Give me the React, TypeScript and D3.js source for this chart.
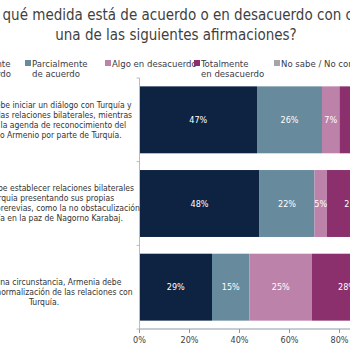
import { useMemo } from 'react';
import * as d3 from 'd3';

// Data (shares per statement, in %)
const statements: string[][] = [
  [
    'Armenia debe iniciar un diálogo con Turquía y',
    'establecer las relaciones bilaterales, mientras',
    'mantiene la agenda de reconocimiento del',
    'Genocidio Armenio por parte de Turquía.',
  ],
  [
    'Armenia debe establecer relaciones bilaterales',
    'con Turquia presentando sus propias',
    'condiciones prerevias, como la no obstaculización',
    'de Turquía en la paz de Nagorno Karabaj.',
  ],
  [
    '',
    'En ninguna circunstancia, Armenia debe',
    'aceptar la normalización de las relaciones con',
    'Turquía.',
  ],
];

const seriesNames = [
  ['Totalmente', 'de acuerdo'],
  ['Parcialmente', 'de acuerdo'],
  ['Algo en desacuerdo'],
  ['Totalmente', 'en desacuerdo'],
  ['No sabe / No contesta'],
];
const totallyAgree = [47, 48, 29];
const partlyAgree = [26, 22, 15];
const somewhatDisagree = [7, 5, 25];
const totallyDisagree = [16, 21, 28];
const dontKnow = [4, 4, 3];

const xTicks = [0, 20, 40, 60, 80, 100];

const titleLines = [
  '¿En qué medida está de acuerdo o en desacuerdo con cada',
  'una de las siguientes afirmaciones?',
];

const palette = ['#0e2341', '#678a9d', '#bd82aa', '#8b2f6d', '#a6a6a6'];
const FONT = '"DejaVu Sans Condensed", "DejaVu Sans", Tahoma, sans-serif';

export default function App() {
  const width = 350;
  const height = 350;
  const plot = { left: 139.5, right: 389.5, top: 78, bottom: 329 };

  const x = d3.scaleLinear().domain([0, 100]).range([plot.left, plot.right]);
  const y = d3
    .scaleBand<number>()
    .domain(d3.range(statements.length))
    .range([plot.top, plot.bottom])
    .paddingInner(0.2)
    .paddingOuter(0.1);

  const stacked = useMemo(() => {
    const rows = statements.map((_, i) => ({
      s0: totallyAgree[i],
      s1: partlyAgree[i],
      s2: somewhatDisagree[i],
      s3: totallyDisagree[i],
      s4: dontKnow[i],
    }));
    return d3.stack<(typeof rows)[number]>().keys(['s0', 's1', 's2', 's3', 's4'])(rows);
  }, []);

  // legend columns (swatch x positions)
  const legendX = [-44, 25, 105, 194, 274];
  const bandStep = y.step();

  return (
    <svg
      width={width}
      height={height}
      style={{ position: 'absolute', left: 0, top: 0, background: '#fff' }}
      fontFamily={FONT}
    >
      {/* title */}
      {titleLines.map((t, i) => (
        <text key={i} x={176} y={20 + i * 20} textAnchor="middle" fontSize={15} fill="#3f3f3f">
          {t}
        </text>
      ))}

      {/* legend */}
      {seriesNames.map((lines, i) => (
        <g key={i} transform={`translate(${legendX[i]},0)`}>
          <rect x={0} y={60} width={6} height={6} fill={palette[i]} />
          {lines.map((l, j) => (
            <text key={j} x={7} y={67 + j * 10} fontSize={9.5} fill="#3b3b48">
              {l}
            </text>
          ))}
        </g>
      ))}

      {/* bars */}
      {stacked.map((layer, si) => (
        <g key={si} fill={palette[si]}>
          {layer.map((d, ci) => (
            <rect
              key={ci}
              x={x(d[0])}
              y={y(ci)!}
              width={x(d[1]) - x(d[0])}
              height={y.bandwidth()}
            />
          ))}
        </g>
      ))}

      {/* data labels */}
      {stacked.map((layer, si) =>
        layer.map((d, ci) => (
          <text
            key={`${si}-${ci}`}
            x={(x(d[0]) + x(d[1])) / 2}
            y={y(ci)! + y.bandwidth() / 2}
            dy="0.35em"
            textAnchor="middle"
            fontSize={9}
            fill="#ffffff"
          >
            {`${d[1] - d[0]}%`}
          </text>
        ))
      )}

      {/* value axis */}
      <line x1={plot.left} x2={plot.right} y1={plot.bottom} y2={plot.bottom} stroke="#8f9aa8" />
      {xTicks.map((t) => (
        <g key={t}>
          <line x1={x(t)} x2={x(t)} y1={plot.bottom} y2={plot.bottom + 4} stroke="#8f9aa8" />
          <text x={x(t)} y={plot.bottom + 11} dy="0.35em" textAnchor="middle" fontSize={9} fill="#404040">
            {`${t}%`}
          </text>
        </g>
      ))}

      {/* category axis */}
      <line x1={plot.left} x2={plot.left} y1={plot.top} y2={plot.bottom} stroke="#b5bcc6" />
      {d3.range(statements.length + 1).map((i) => (
        <line
          key={i}
          x1={plot.left - 3}
          x2={plot.left}
          y1={plot.top + i * bandStep}
          y2={plot.top + i * bandStep}
          stroke="#b5bcc6"
        />
      ))}
      {statements.map((lines, ci) => {
        const cy = y(ci)! + y.bandwidth() / 2;
        return lines.map((l, j) => (
          <text
            key={`${ci}-${j}`}
            x={44}
            y={cy + (j - (lines.length - 1) / 2) * 10}
            dy="0.35em"
            textAnchor="middle"
            fontSize={8.5}
            fill="#333333"
          >
            {l}
          </text>
        ));
      })}
    </svg>
  );
}
